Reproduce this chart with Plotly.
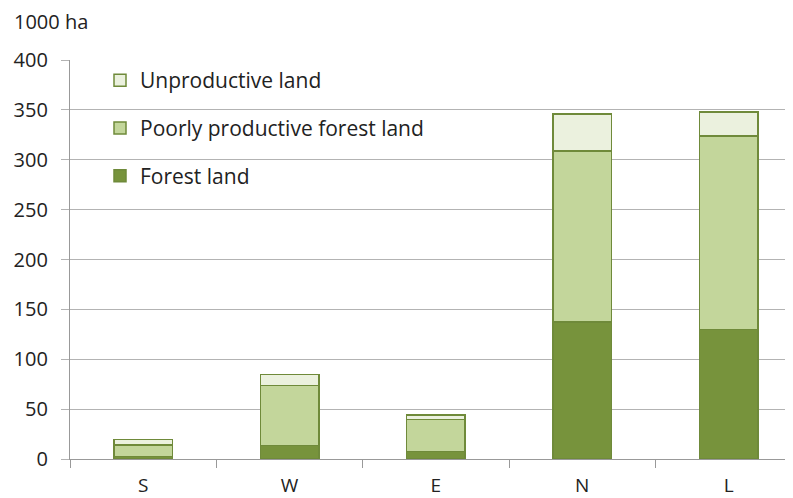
import plotly.graph_objects as go

categories = ["S", "W", "E", "N", "L"]
forest_land = [2.3, 13.7, 7.3, 137.3, 130.0]
poorly_productive = [11.7, 59.8, 32.1, 171.5, 193.8]
unproductive = [5.7, 11.0, 4.7, 37.1, 24.1]

font_family = "'Open Sans', Lato, sans-serif"
fs = 20
border = "#6F8A3A"

fig = go.Figure()
series = [
    ("Forest land", forest_land, "#77933C", 3),
    ("Poorly productive forest land", poorly_productive, "#C3D69B", 2),
    ("Unproductive land", unproductive, "#EBF1DE", 1),
]
for i, (name, vals, col, rank) in enumerate(series):
    fig.add_trace(go.Bar(
        x=categories, y=vals, name=name,
        marker=dict(color=col, line=dict(color=border, width=1.5)),
        width=0.4, legendgroup=f"g{i}", legendrank=rank,
    ))

# page body has an 8px margin, so the figure is drawn at (8, 8)
W, H = 785, 490
L, T, B = 62, 52, 39
pw, ph = W - L, H - T - B

fig.update_layout(
    barmode="stack",
    width=W, height=H,
    margin=dict(l=L, r=0, t=T, b=B, autoexpand=False),
    plot_bgcolor="white", paper_bgcolor="white",
    font=dict(family=font_family, size=fs, color="#222222"),
    showlegend=True,
    legend=dict(
        x=30 / pw, y=1 - 0 / ph, xanchor="left", yanchor="top",
        bgcolor="rgba(0,0,0,0)",
        traceorder="grouped",
        tracegroupgap=17.5,
        font=dict(size=21, family=font_family, color="#222222"),
    ),
    annotations=[dict(
        text="1000 ha", x=-58 / pw, y=1 + 38 / ph, xref="paper", yref="paper",
        showarrow=False, xanchor="left", yanchor="middle",
        font=dict(size=20, family=font_family, color="#222222"),
    )],
)

fig.update_yaxes(
    range=[0, 400], dtick=50,
    showgrid=True, gridcolor="#B3B3B3", gridwidth=1.3,
    showline=True, linecolor="#999999", linewidth=1.3,
    ticks="outside", ticklen=8, tickcolor="#B3B3B3",
    ticklabelstandoff=9, automargin=False,
    tickfont=dict(size=fs, family=font_family, color="#222222"),
    zeroline=False,
)
fig.update_xaxes(
    range=[-0.5, 4.44],
    showline=True, linecolor="#999999", linewidth=1.3,
    ticks="outside", ticklen=8, tickcolor="#999999",
    tickson="boundaries", automargin=False,
    ticklabelstandoff=9,
    tickfont=dict(size=19, family=font_family, color="#222222"),
    showgrid=False,
)

fig.write_html("out.html")
